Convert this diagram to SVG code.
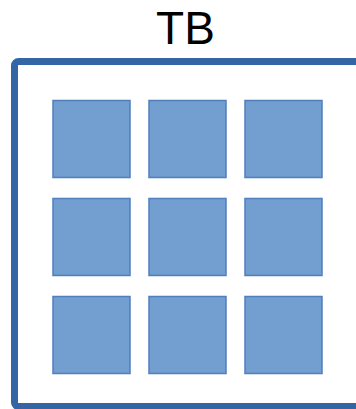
<svg xmlns="http://www.w3.org/2000/svg" width="356" height="409" viewBox="0 0 356 409">
<style>
.cell{fill:#729fcf;stroke:#4f7fbd;stroke-width:1.5}
.frame{fill:#ffffff;stroke:#3465a4;stroke-width:7}
.lbl{font-family:"Liberation Sans",Arial,sans-serif;font-size:46px;fill:#000000}
</style>
<rect width="356" height="409" fill="#ffffff"/>
<g id="container">
<rect class="frame" x="14.5" y="61.5" width="360" height="345" rx="4"/>
<text class="lbl" x="185.5" y="44" text-anchor="middle">TB</text>
</g>
<g id="n1"><rect class="cell" x="53" y="100.5" width="77" height="77"/></g>
<g id="n2"><rect class="cell" x="149" y="100.5" width="77" height="77"/></g>
<g id="n3"><rect class="cell" x="245" y="100.5" width="77" height="77"/></g>
<g id="n4"><rect class="cell" x="53" y="198.5" width="77" height="77"/></g>
<g id="n5"><rect class="cell" x="149" y="198.5" width="77" height="77"/></g>
<g id="n6"><rect class="cell" x="245" y="198.5" width="77" height="77"/></g>
<g id="n7"><rect class="cell" x="53" y="296.5" width="77" height="77"/></g>
<g id="n8"><rect class="cell" x="149" y="296.5" width="77" height="77"/></g>
<g id="n9"><rect class="cell" x="245" y="296.5" width="77" height="77"/></g>
<g id="connectors"></g>
</svg>
